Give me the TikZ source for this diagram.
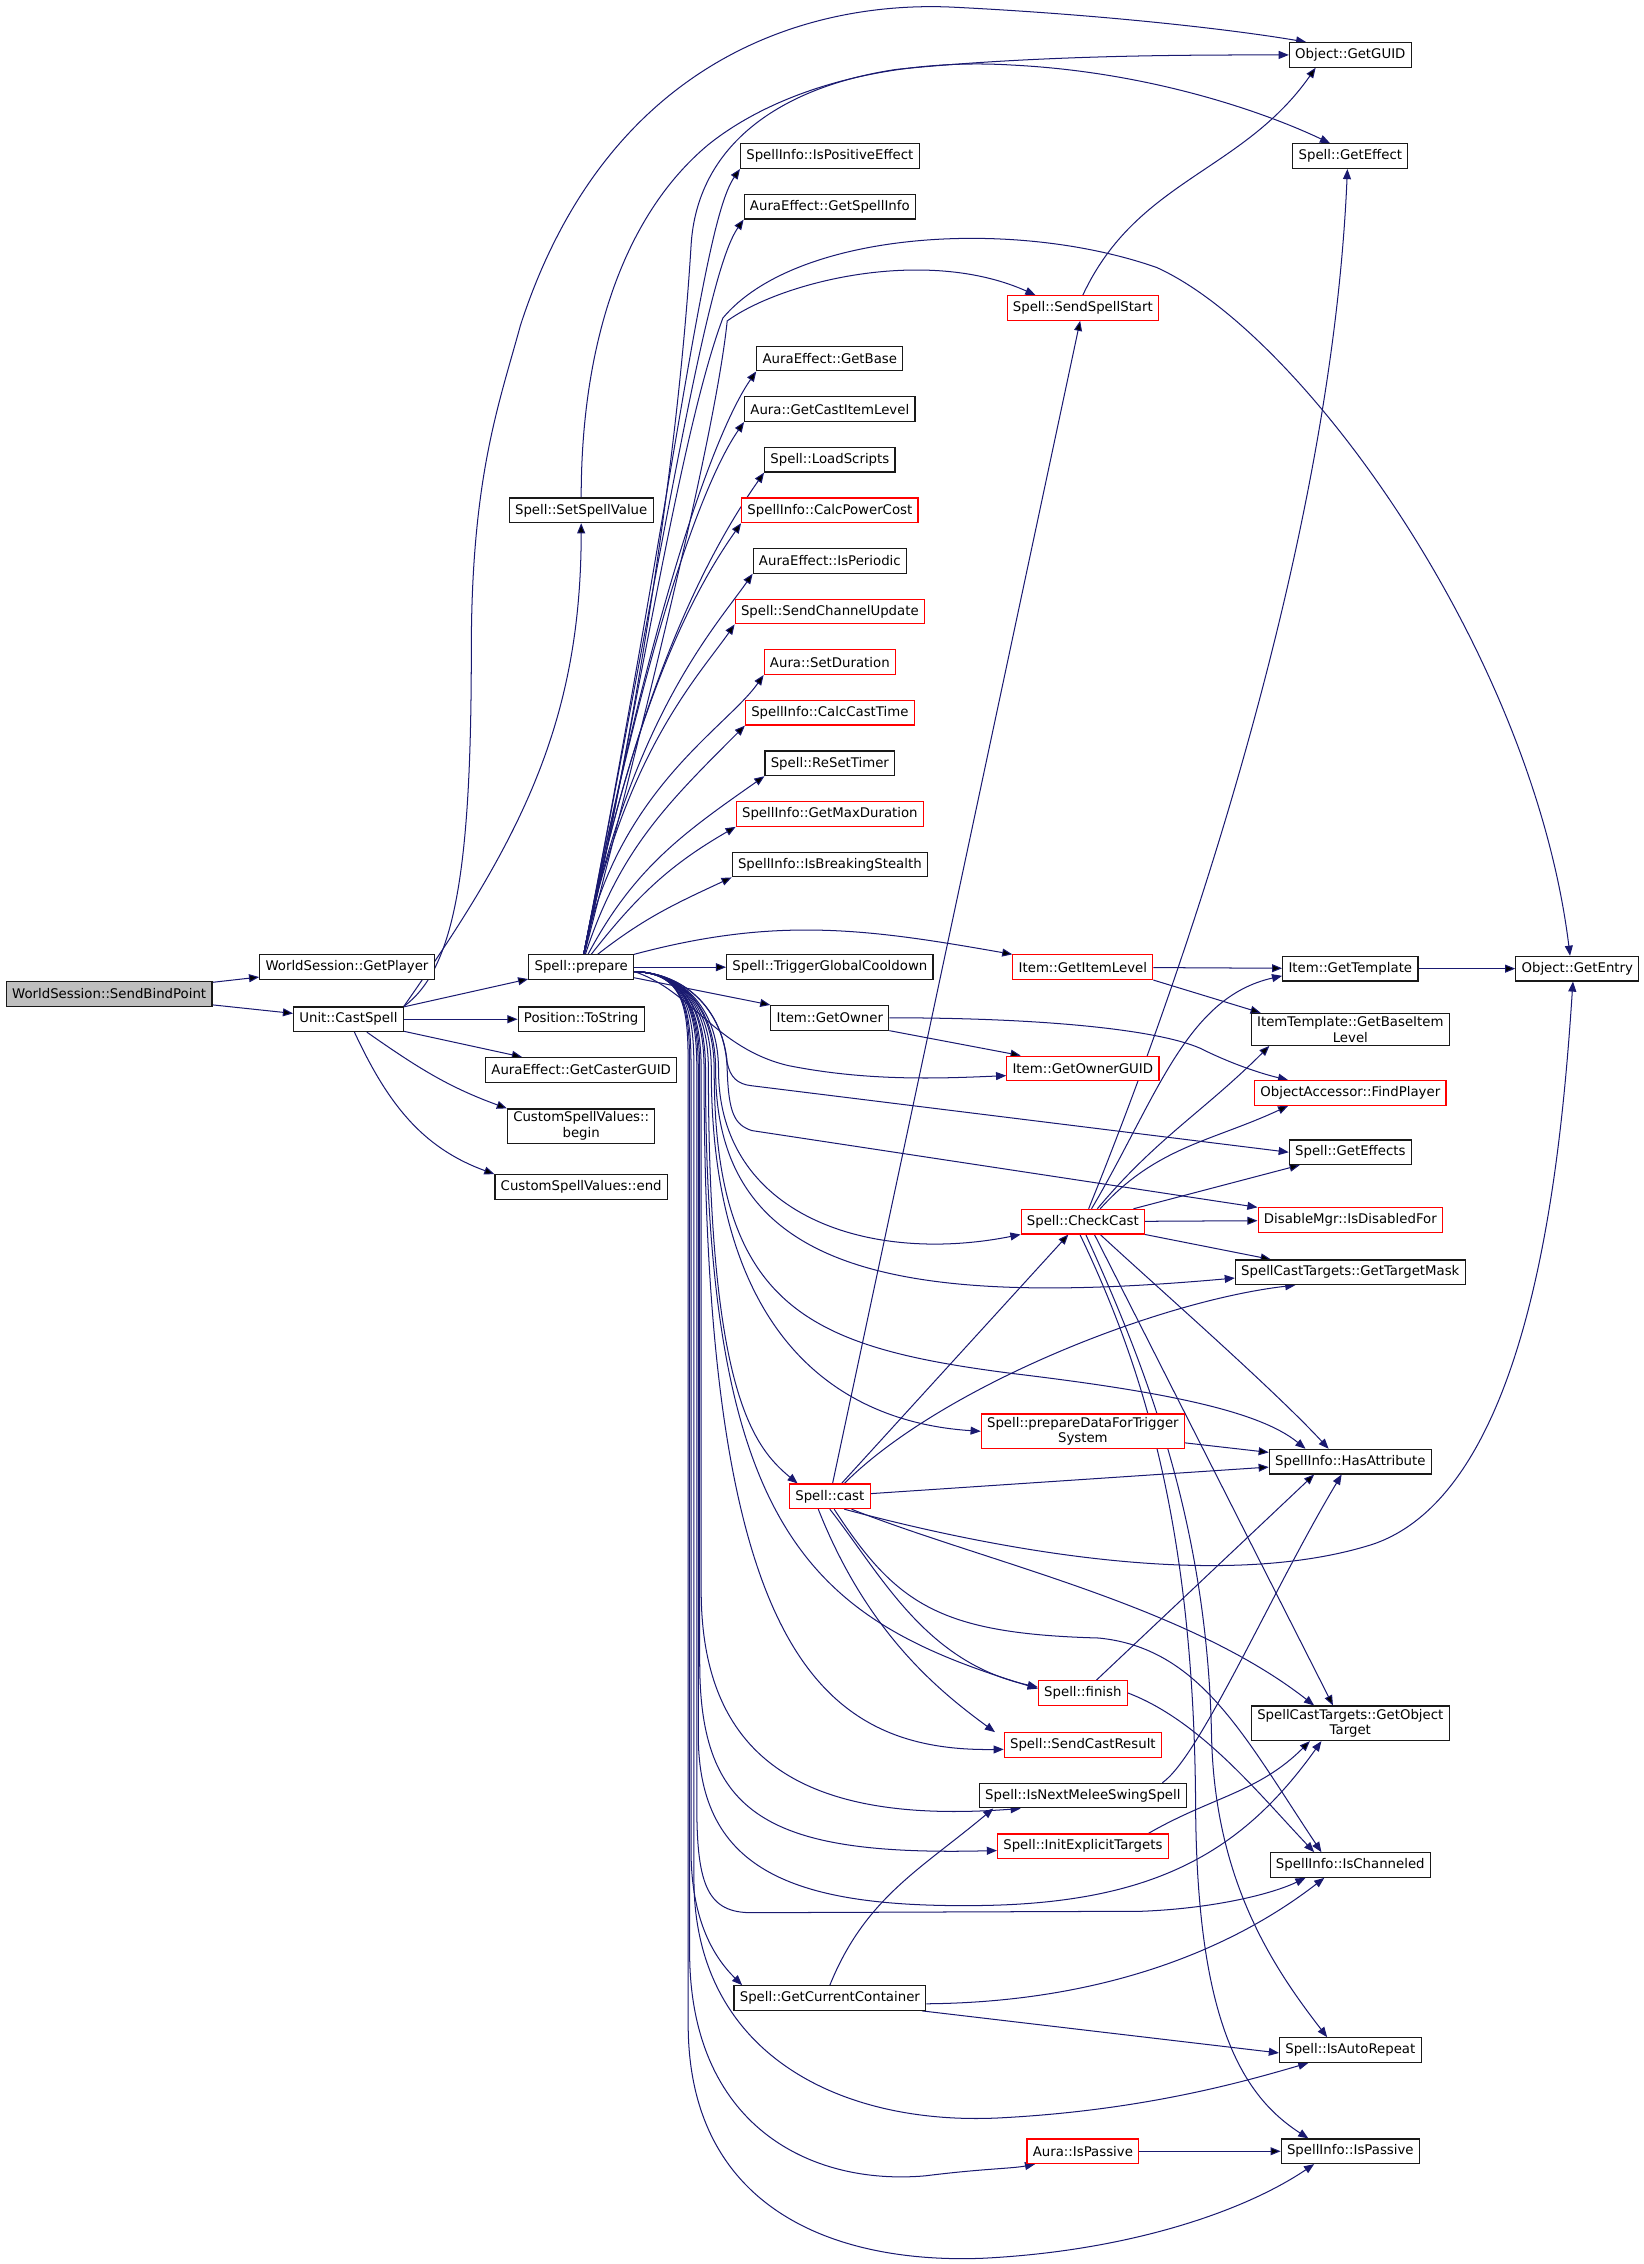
\documentclass[tikz,border=0pt]{standalone}
\usepackage{fontspec}
\setmainfont{DejaVu Sans}
\usetikzlibrary{arrows.meta}
\definecolor{dxblue}{HTML}{191970}
\definecolor{dxgray}{HTML}{BFBFBF}
\pgfdeclarelayer{edges}
\pgfsetlayers{edges,main}

\begin{document}
\begin{tikzpicture}[x=1pt,y=1pt,>={Triangle[length=7pt,width=5.5pt]},
                    call/.style={->,draw=dxblue,line width=0.7pt}]
\tikzset{fn/.style={draw=black!90,line width=0.8pt,fill=white,minimum height=17pt,
                    inner xsep=4pt,inner ysep=2pt,align=center,font=\fontsize{9.2}{11}\selectfont}}
\tikzset{fnred/.style={fn,draw=red}, fnroot/.style={fn,fill=dxgray}}
\tikzset{rise/.style={out=79,in=235,out distance=#1,in distance=45pt}}
\useasboundingbox (0,0) rectangle (1137,-1566);

        % callers
        \node[fnroot] (sendbind)      at (75.5,-687.5) {WorldSession::SendBindPoint};
        \node[fn]     (getplayer)     at (240,-669)  {WorldSession::GetPlayer};
        \node[fn]     (castspell)     at (241,-705)  {Unit::CastSpell};

        \node[fn]     (setspellvalue) at (402,-353)  {Spell::SetSpellValue};
        \node[fn]     (prepare)       at (402,-669)  {Spell::prepare};
        \node[fn]     (tostring)      at (402,-705)  {Position::ToString};
        \node[fn]     (casterguid)    at (402,-740)  {AuraEffect::GetCasterGUID};
        \node[fn]     (cbegin)        at (402,-779)  {CustomSpellValues::\\begin};
        \node[fn]     (cend)          at (402,-821)  {CustomSpellValues::end};

        \node[fn]     (ispositive)    at (574,-108)  {SpellInfo::IsPositiveEffect};
        \node[fn]     (getspellinfo)  at (574,-143)  {AuraEffect::GetSpellInfo};
        \node[fn]     (getbase)       at (574,-248)  {AuraEffect::GetBase};
        \node[fn]     (castitemlevel) at (574,-283)  {Aura::GetCastItemLevel};
        \node[fn]     (loadscripts)   at (574,-318)  {Spell::LoadScripts};
        \node[fnred]  (calcpower)     at (574,-353)  {SpellInfo::CalcPowerCost};
        \node[fn]     (isperiodic)    at (574,-388)  {AuraEffect::IsPeriodic};
        \node[fnred]  (sendchannel)   at (574,-423)  {Spell::SendChannelUpdate};
        \node[fnred]  (setduration)   at (574,-458)  {Aura::SetDuration};
        \node[fnred]  (calccast)      at (574,-493)  {SpellInfo::CalcCastTime};
        \node[fn]     (resettimer)    at (574,-528)  {Spell::ReSetTimer};
        \node[fnred]  (getmaxdur)     at (574,-563)  {SpellInfo::GetMaxDuration};
        \node[fn]     (isbreaking)    at (574,-598)  {SpellInfo::IsBreakingStealth};
        \node[fn]     (triggergcd)    at (574,-669)  {Spell::TriggerGlobalCooldown};
        \node[fn]     (getowner)      at (574,-704)  {Item::GetOwner};
        \node[fnred]  (cast)          at (574,-1035) {Spell::cast};
        \node[fn]     (getcontainer)  at (574,-1382) {Spell::GetCurrentContainer};

        \node[fnred]  (sendstart)     at (749,-213)  {Spell::SendSpellStart};
        \node[fnred]  (getitemlevel)  at (749,-669)  {Item::GetItemLevel};
        \node[fnred]  (getownerguid)  at (749,-739)  {Item::GetOwnerGUID};
        \node[fnred]  (checkcast)     at (749,-845)  {Spell::CheckCast};
        \node[fnred]  (preparedata)   at (749,-990)  {Spell::prepareDataForTrigger\\System};
        \node[fnred]  (finish)        at (749,-1171) {Spell::finish};
        \node[fnred]  (sendresult)    at (749,-1207) {Spell::SendCastResult};
        \node[fn]     (isnextmelee)   at (749,-1242) {Spell::IsNextMeleeSwingSpell};
        \node[fnred]  (initexplicit)  at (749,-1277) {Spell::InitExplicitTargets};
        \node[fnred]  (aurapassive)   at (749,-1488) {Aura::IsPassive};

        \node[fn]     (getguid)       at (934,-38)   {Object::GetGUID};
        \node[fn]     (geteffect)     at (934,-108)  {Spell::GetEffect};
        \node[fn]     (gettemplate)   at (934,-670)  {Item::GetTemplate};
        \node[fn]     (baseitemlevel) at (934,-712)  {ItemTemplate::GetBaseItem\\Level};
        \node[fnred]  (findplayer)    at (934,-756)  {ObjectAccessor::FindPlayer};
        \node[fn]     (geteffects)    at (934,-797)  {Spell::GetEffects};
        \node[fnred]  (isdisabled)    at (934,-844)  {DisableMgr::IsDisabledFor};
        \node[fn]     (targetmask)    at (934,-880)  {SpellCastTargets::GetTargetMask};
        \node[fn]     (hasattribute)  at (934,-1011) {SpellInfo::HasAttribute};
        \node[fn]     (objecttarget)  at (934,-1192) {SpellCastTargets::GetObject\\Target};
        \node[fn]     (ischanneled)   at (934,-1290) {SpellInfo::IsChanneled};
        \node[fn]     (isautorepeat)  at (934,-1418) {Spell::IsAutoRepeat};
        \node[fn]     (ispassive)     at (934,-1488) {SpellInfo::IsPassive};

        \node[fn]     (getentry)      at (1091,-670) {Object::GetEntry};

\begin{pgfonlayer}{edges}
        % simple calls
        \path[call]
        (sendbind)     edge                          (getplayer)
        (sendbind)     edge                          (castspell)
        (castspell)    edge                          (prepare)
        (castspell)    edge                          (tostring)
        (castspell)    edge                          (casterguid)
        (castspell)    edge [out=-35,in=160]         (cbegin.north west)
        (castspell)    edge [out=-65,in=160]         (cend.north west)
        (castspell.north east) edge [out=55,in=-90]  (setspellvalue.south)
        (prepare)      edge                          (triggergcd)
        (prepare)      edge                          (getowner.north west)
        (prepare.north east) edge [out=15,in=170]    (getitemlevel.north west)
        (prepare)      edge [rise=330pt]             (ispositive.south west)
        (prepare)      edge [rise=310pt]             (getspellinfo.south west)
        (prepare)      edge [rise=260pt]             (getbase.south west)
        (prepare)      edge [rise=235pt]             (castitemlevel.south west)
        (prepare)      edge [rise=210pt]             (loadscripts.south west)
        (prepare)      edge [rise=190pt]             (calcpower.south west)
        (prepare)      edge [rise=165pt]             (isperiodic.south west)
        (prepare)      edge [rise=140pt]             (sendchannel.south west)
        (prepare)      edge [rise=115pt]             (setduration.south west)
        (prepare)      edge [out=72,in=225]          (calccast.south west)
        (prepare)      edge [out=62,in=215]          (resettimer.south west)
        (prepare)      edge [out=52,in=210]          (getmaxdur.south west)
        (prepare)      edge [out=38,in=205]          (isbreaking.south west)
        (getitemlevel) edge                          (gettemplate)
        (getitemlevel.south east) edge               ([xshift=-62pt]baseitemlevel.north)
        (gettemplate)  edge                          (getentry)
        (getowner.south east) edge                   ([xshift=10pt]getownerguid.north west)
        (sendstart.north) edge [out=65,in=235]       ([xshift=-24pt]getguid.south)
        (cast)         edge                          (sendstart)
        (cast)         edge                          ([xshift=-10pt]checkcast.south)
        (cast)         edge                          (hasattribute)
        (checkcast)    edge                          (isdisabled)
        (checkcast.south east) edge                  ([xshift=-55pt]targetmask.north)
        ([xshift=35pt]checkcast.north) edge          ([xshift=-35pt]geteffects.south)
        ([xshift=10pt]checkcast.north) edge [out=50,in=225] ([xshift=-56pt]baseitemlevel.south)
        ([xshift=12pt]checkcast.north) edge [out=48,in=205] ([xshift=-43pt]findplayer.south)
        ([xshift=8pt]checkcast.south)  edge          ([xshift=-12pt]objecttarget.north)
        (finish)       edge                          ([xshift=-25pt]hasattribute.south)
        (preparedata)  edge                          (hasattribute)
        ([xshift=-14pt]initexplicit.north east) edge [out=30,in=225] ([xshift=-28pt]objecttarget.south)
        (aurapassive)  edge                          (ispassive)
        ; %end path
        \draw[call] (getcontainer.north) to[out=68,in=220] ([xshift=10pt]isnextmelee.south west);
        \draw[call] ([xshift=-3pt]getcontainer.south east) -- ([yshift=-2pt]isautorepeat.west);

        % long calls of Unit::CastSpell and Spell::SetSpellValue
        \draw[call] (castspell.north east) .. controls (315,-670) and (326,-600) .. (326,-450)
              .. controls (326,-330) and (345,-280) .. (360,-225)
              .. controls (420,-40) and (560,0) .. (660,-5)
              .. controls (760,-10) and (850,-20) .. ([xshift=12pt]getguid.north west);
        \draw[call] (setspellvalue.north) .. controls (402,-240) and (430,-150) .. (490,-100)
              .. controls (540,-60) and (620,-40) .. (700,-45)
              .. controls (800,-50) and (880,-80) .. ([xshift=-14pt]geteffect.north);

        % upper calls of Spell::prepare
        \draw[call] (prepare) .. controls (445,-480) and (470,-300) .. (478,-170)
              .. controls (482,-100) and (540,-60) .. (620,-48)
              .. controls (720,-38) and (820,-38) .. (getguid.west);
        \draw[call] (prepare) .. controls (445,-500) and (495,-300) .. (503,-222)
              .. controls (540,-195) and (640,-170) .. ([xshift=20pt]sendstart.north west);
        \draw[call] (prepare) .. controls (440,-500) and (470,-300) .. (500,-220)
              .. controls (550,-160) and (700,-150) .. (800,-185)
              .. controls (900,-230) and (1060,-450) .. ([xshift=-5pt]getentry.north);

        % lower calls of Spell::prepare
        \coordinate (pout) at ([yshift=-3pt]prepare.east);
        \draw[call] (pout) .. controls (478,-685) and (495,-725) .. (545,-737)
              .. controls (600,-748) and (650,-746) .. ([yshift=-5pt]getownerguid.west);
        \draw[call] (pout) .. controls (475,-673) and (500,-700) .. (503,-735)
              .. controls (505,-745) and (510,-750) .. (520,-751) -- (geteffects.west);
        \draw[call] (pout) .. controls (475,-673) and (502,-700) .. (503,-740)
              .. controls (504,-770) and (508,-778) .. (520,-782) -- (isdisabled.north west);
        \draw[call] (pout) .. controls (475,-673) and (497,-700) .. (497,-740)
              .. controls (497,-840) and (600,-875) .. (checkcast.south west);
        \draw[call] (pout) .. controls (475,-673) and (495,-700) .. (495,-740)
              .. controls (495,-880) and (620,-905) .. ([yshift=-4pt]targetmask.west);
        \draw[call] (pout) .. controls (475,-673) and (494,-700) .. (494,-740)
              .. controls (494,-905) and (560,-932) .. (700,-950)
              .. controls (800,-962) and (870,-975) .. ([xshift=-31pt]hasattribute.north);
        \draw[call] (pout) .. controls (475,-673) and (492,-700) .. (492,-740)
              .. controls (492,-945) and (600,-985) .. (preparedata.west);
        \draw[call] (pout) .. controls (475,-673) and (490,-700) .. (490,-740)
              .. controls (490,-960) and (520,-1000) .. ([xshift=6pt]cast.north west);
        \draw[call] (pout) .. controls (475,-673) and (488,-700) .. (488,-740)
              .. controls (488,-1060) and (560,-1120) .. ([yshift=3pt]finish.west);
        \draw[call] (pout) .. controls (475,-673) and (487,-700) .. (487,-740)
              .. controls (487,-1130) and (560,-1212) .. ([yshift=-3pt]sendresult.west);
        \draw[call] (pout) .. controls (475,-673) and (485,-700) .. (485,-740) -- (485,-1100)
              .. controls (485,-1220) and (560,-1262) .. ([xshift=29pt]isnextmelee.south west);
        \draw[call] (pout) .. controls (475,-673) and (484,-700) .. (484,-740) -- (484,-1150)
              .. controls (484,-1255) and (530,-1284) .. ([yshift=-3pt]initexplicit.west);
        \draw[call] (pout) .. controls (475,-673) and (483,-700) .. (483,-740) -- (483,-1200)
              .. controls (483,-1295) and (550,-1320) .. (680,-1318)
              .. controls (800,-1316) and (860,-1280) .. ([xshift=-20pt]objecttarget.south);
        \draw[call] (pout) .. controls (475,-673) and (482,-700) .. (482,-740) -- (482,-1250)
              .. controls (482,-1305) and (490,-1323) .. (520,-1323) -- (790,-1322)
              .. controls (840,-1320) and (880,-1310) .. ([xshift=-31pt]ischanneled.south);
        \draw[call] (pout) .. controls (475,-673) and (478,-700) .. (478,-740) -- (478,-1280)
              .. controls (478,-1330) and (495,-1355) .. ([xshift=6pt]getcontainer.north west);
        \draw[call] (pout) .. controls (475,-673) and (480,-700) .. (480,-740) -- (480,-1300)
              .. controls (480,-1420) and (580,-1470) .. (690,-1465)
              .. controls (790,-1460) and (860,-1440) .. ([xshift=-29pt]isautorepeat.south);
        \draw[call] (pout) .. controls (475,-673) and (477,-700) .. (477,-740) -- (477,-1350)
              .. controls (477,-1470) and (560,-1512) .. (640,-1505)
              .. controls (680,-1500) and (700,-1500) .. ([xshift=6pt]aurapassive.south west);
        \draw[call] (pout) .. controls (475,-673) and (476,-700) .. (476,-740) -- (476,-1400)
              .. controls (476,-1530) and (580,-1566) .. (680,-1562)
              .. controls (780,-1557) and (860,-1530) .. ([xshift=-25pt]ispassive.south);

        % calls of Item::GetOwner
        \draw[call] (getowner.east) .. controls (720,-704) and (800,-712) .. (830,-725)
              .. controls (850,-735) and (870,-742) .. ([xshift=-43pt]findplayer.north);

        % calls of Spell::CheckCast
        \draw[call] ([xshift=4pt]checkcast.north) .. controls (800,-720) and (920,-400) .. ([xshift=-2pt]geteffect.south);
        \draw[call] ([xshift=6pt]checkcast.north) .. controls (800,-760) and (820,-690) .. ([yshift=-5pt]gettemplate.west);
        \draw[call] ([xshift=12pt]checkcast.south) .. controls (800,-890) and (880,-960) .. ([xshift=-15pt]hasattribute.north);
        \draw[call] ([xshift=2pt]checkcast.south) .. controls (790,-940) and (835,-1050) .. (838,-1200)
              .. controls (840,-1300) and (880,-1360) .. ([xshift=-16pt]isautorepeat.north);
        \draw[call] ([xshift=-2pt]checkcast.south) .. controls (788,-940) and (826,-1050) .. (827,-1250)
              .. controls (828,-1400) and (860,-1450) .. ([xshift=-29pt]ispassive.north);

        % calls of Spell::cast
        \draw[call] ([xshift=10pt]cast.north) .. controls (650,-960) and (800,-900) .. ([xshift=-38pt]targetmask.south);
        \draw[call] ([xshift=10pt]cast.south) .. controls (700,-1075) and (850,-1100) .. (950,-1068)
              .. controls (1060,-1030) and (1080,-800) .. ([xshift=-3pt]getentry.south);
        \draw[call] ([xshift=15pt]cast.south) .. controls (680,-1080) and (820,-1110) .. ([xshift=-25pt]objecttarget.north);
        \draw[call] (cast.south) .. controls (610,-1090) and (640,-1150) .. ([yshift=4pt]finish.west);
        \draw[call] ([xshift=-8pt]cast.south) .. controls (600,-1130) and (650,-1170) .. ([xshift=-6pt]sendresult.north west);
        \draw[call] ([xshift=3pt]cast.south) .. controls (620,-1110) and (650,-1130) .. (760,-1133)
              .. controls (830,-1140) and (860,-1200) .. ([xshift=-20pt]ischanneled.north);

        % calls of Spell::finish, Spell::IsNextMeleeSwingSpell, Spell::GetCurrentContainer
        \draw[call] (finish.east) .. controls (830,-1190) and (870,-1240) .. ([xshift=-25pt]ischanneled.north);
        \draw[call] ([xshift=55pt]isnextmelee.north) .. controls (830,-1215) and (880,-1100) .. ([xshift=-6pt]hasattribute.south);
        \draw[call] ([yshift=-4pt]getcontainer.east) .. controls (760,-1385) and (850,-1350) .. ([xshift=-18pt]ischanneled.south);
\end{pgfonlayer}
\end{tikzpicture}
\end{document}
